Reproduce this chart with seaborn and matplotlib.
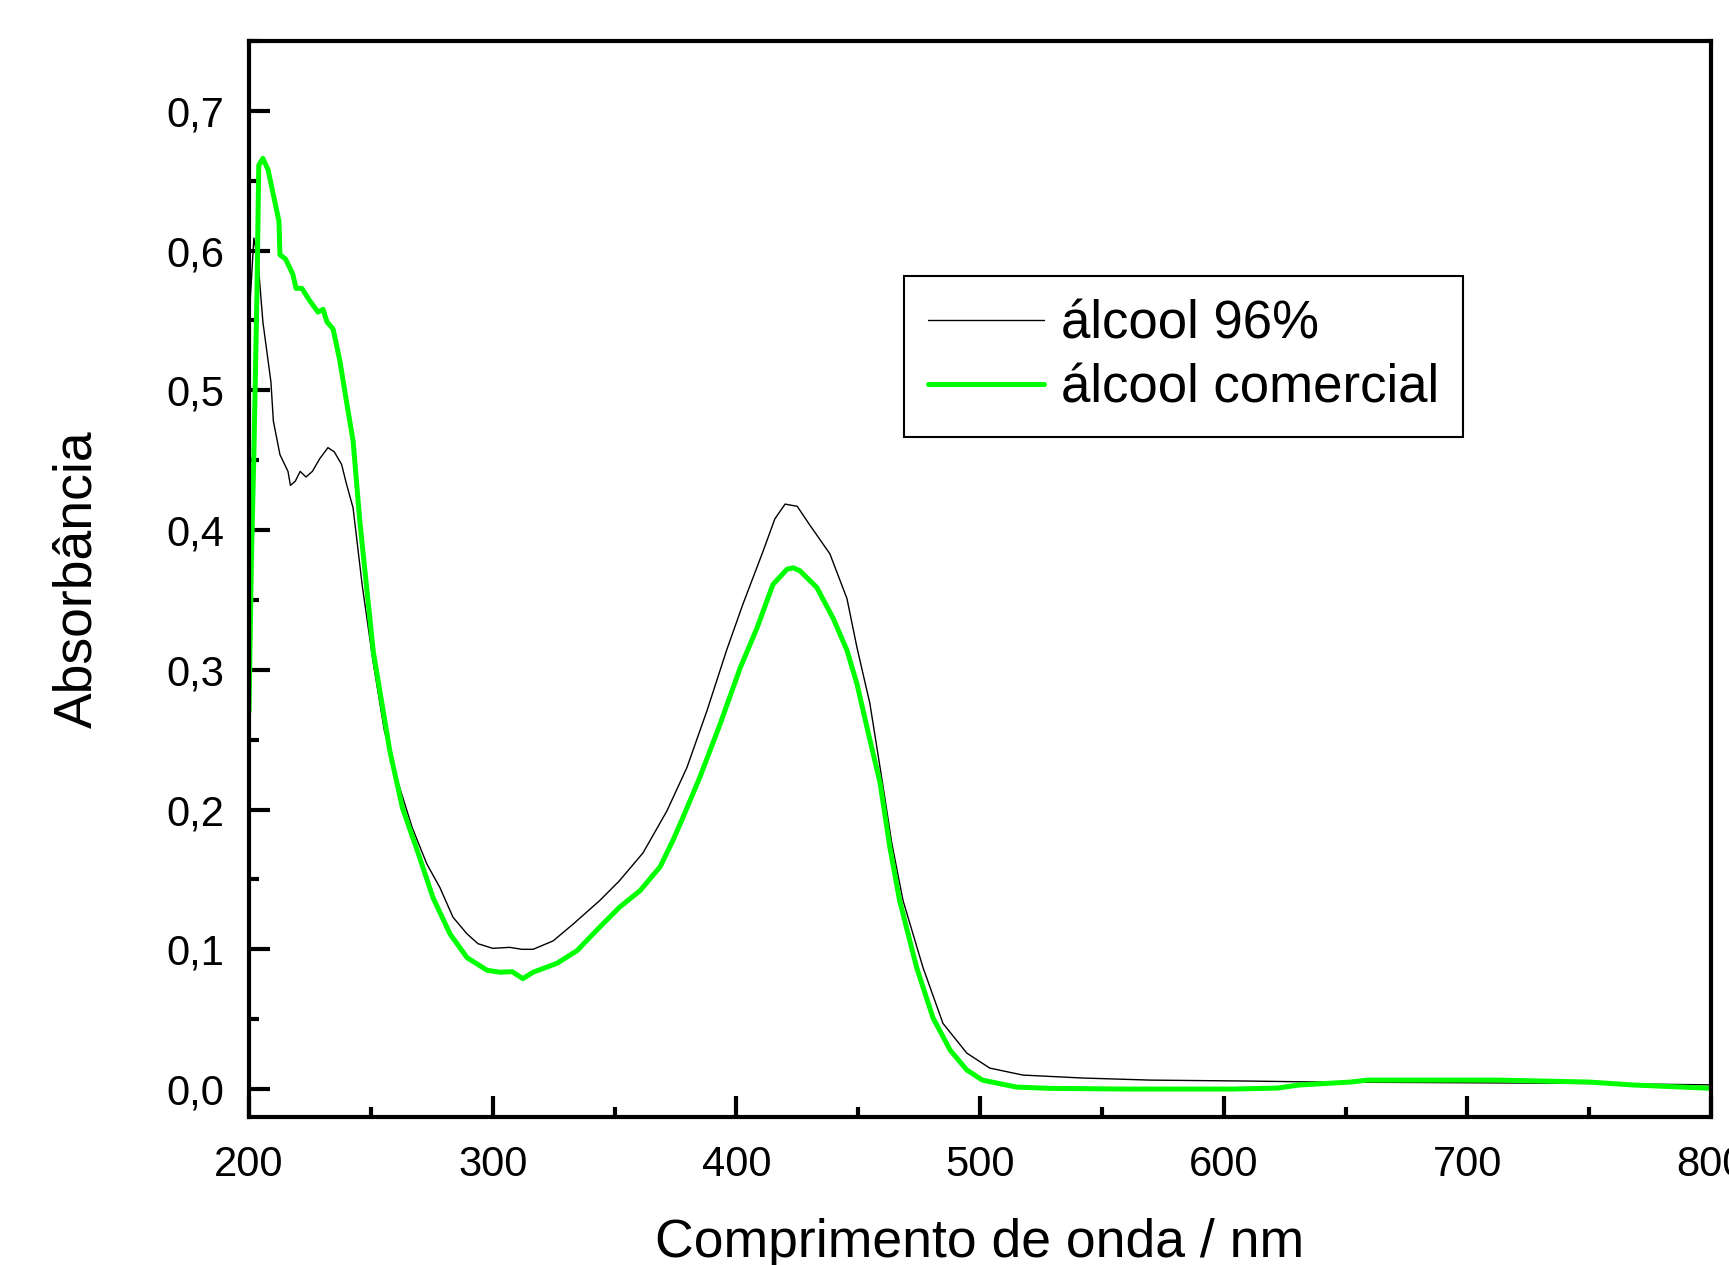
import pandas as pd
import matplotlib
matplotlib.use("Agg")
import matplotlib.pyplot as plt
from matplotlib.ticker import MultipleLocator, FuncFormatter
import seaborn as sns

# espectro UV-Vis, valores
wl_96 = [200, 202, 203.7, 205.7, 209, 210, 212.7, 216, 217, 219, 221, 223.4, 226, 229,
         232.4, 235, 238, 240, 242.7, 246.5, 251, 255.5, 260, 267, 273, 278.4, 283.7,
         289.5, 294, 300, 307, 312, 316.6, 324.8, 333, 344, 352, 361.7, 371.5, 379.7,
         388, 396, 402.7, 411, 415.8, 420, 425, 430, 438.4, 445.4, 449.5, 454.8, 460,
         463.8, 468.4, 476.6, 484.8, 494.6, 504, 517.6, 542, 570, 611, 640, 700, 750, 800]
abs_96 = [0.55, 0.609, 0.592, 0.549, 0.506, 0.478, 0.454, 0.442, 0.432, 0.435, 0.442,
          0.438, 0.442, 0.451, 0.459, 0.456, 0.447, 0.433, 0.416, 0.36, 0.305, 0.257,
          0.226, 0.187, 0.161, 0.144, 0.123, 0.111, 0.104, 0.1007, 0.1014, 0.1, 0.1,
          0.106, 0.118, 0.135, 0.149, 0.169, 0.199, 0.23, 0.271, 0.314, 0.347, 0.385,
          0.408, 0.4186, 0.417, 0.404, 0.383, 0.351, 0.316, 0.276, 0.219, 0.176, 0.135,
          0.087, 0.047, 0.0257, 0.015, 0.010, 0.0079, 0.0064, 0.0057, 0.005, 0.0045,
          0.004, 0.003]

wl_com = [200, 201, 202, 203.3, 204, 205.7, 207.8, 210, 212.3, 212.7, 215, 218, 219.3,
          221.7, 225, 228.3, 230.4, 232, 234.5, 237.3, 240.2, 242.7, 245.5, 251, 257.8,
          263, 269, 275.5, 282.5, 289.5, 297.7, 303, 308, 312.4, 316.6, 326.4, 334.6,
          344, 352, 360.5, 368.7, 374, 378, 385, 393.3, 401.5, 408.5, 415, 420.8, 423.3,
          426, 433, 439.7, 445.4, 449.5, 453.6, 459, 463, 467, 474, 480.7, 487.7, 494.6,
          501, 515, 528.7, 560, 604, 622, 631, 652, 659, 693, 713, 750, 768, 798, 800]
abs_com = [0.27, 0.38, 0.454, 0.573, 0.661, 0.666, 0.658, 0.64, 0.621, 0.597, 0.594,
           0.583, 0.573, 0.573, 0.564, 0.556, 0.558, 0.549, 0.544, 0.521, 0.49, 0.464,
           0.406, 0.313, 0.242, 0.201, 0.171, 0.137, 0.111, 0.094, 0.085, 0.0836, 0.084,
           0.079, 0.0836, 0.09, 0.099, 0.116, 0.13, 0.142, 0.159, 0.178, 0.194, 0.223,
           0.261, 0.301, 0.33, 0.361, 0.372, 0.373, 0.371, 0.359, 0.337, 0.314, 0.29,
           0.259, 0.219, 0.173, 0.135, 0.087, 0.051, 0.028, 0.0136, 0.0064, 0.0014,
           0.0005, 0.0, 0.0, 0.0007, 0.0029, 0.005, 0.0064, 0.0064, 0.0064, 0.005,
           0.0029, 0.0007, 0.0005]

labels = ["álcool 96%", "álcool comercial"]

df_96 = pd.DataFrame({"wl": wl_96, "abs": abs_96})
df_com = pd.DataFrame({"wl": wl_com, "abs": abs_com})

sns.set_style("ticks")
plt.rcParams["font.family"] = ["Liberation Sans", "DejaVu Sans"]
plt.rcParams.update({"text.color": "black", "axes.labelcolor": "black",
                     "xtick.color": "black", "ytick.color": "black"})

fig = plt.figure(figsize=(17.29, 12.65), dpi=100)
ax = fig.add_axes([249 / 1729, 1 - 1117 / 1265, (1711 - 249) / 1729, (1117 - 41) / 1265])

sns.lineplot(data=df_96, x="wl", y="abs", ax=ax, color="black", linewidth=1.0,
             estimator=None, sort=False, label=labels[0])
sns.lineplot(data=df_com, x="wl", y="abs", ax=ax, color="#00ff00", linewidth=3.6,
             estimator=None, sort=False, label=labels[1])

ax.set_xlim(200, 800)
ax.set_ylim(-0.02, 0.75)
ax.xaxis.set_major_locator(MultipleLocator(100))
ax.xaxis.set_minor_locator(MultipleLocator(50))
ax.yaxis.set_major_locator(MultipleLocator(0.1))
ax.yaxis.set_minor_locator(MultipleLocator(0.05))
ax.yaxis.set_major_formatter(FuncFormatter(lambda v, p: f"{abs(v):.1f}".replace(".", ",")))

ax.tick_params(which="both", direction="in", width=3, top=False, right=False,
               labelsize=30, colors="black")
ax.tick_params(which="major", length=15)
ax.tick_params(which="minor", length=7.5)
ax.tick_params(axis="x", pad=20)
ax.tick_params(axis="y", pad=18)

for s in ax.spines.values():
    s.set_visible(True)
    s.set_linewidth(3)
    s.set_color("black")

ax.set_xlabel("Comprimento de onda / nm", fontsize=38.5, labelpad=24)
ax.set_ylabel("Absorbância", fontsize=38.5, labelpad=46)

leg = ax.legend(loc="upper left", bbox_to_anchor=(0.448, 0.7816), borderaxespad=0,
                fontsize=38, handlelength=2.2, handletextpad=0.32, borderpad=0.45,
                labelspacing=0.26, fancybox=False, framealpha=1, edgecolor="black")
leg.get_frame().set_linewidth(1.5)

fig.savefig("out.png", dpi=100)
